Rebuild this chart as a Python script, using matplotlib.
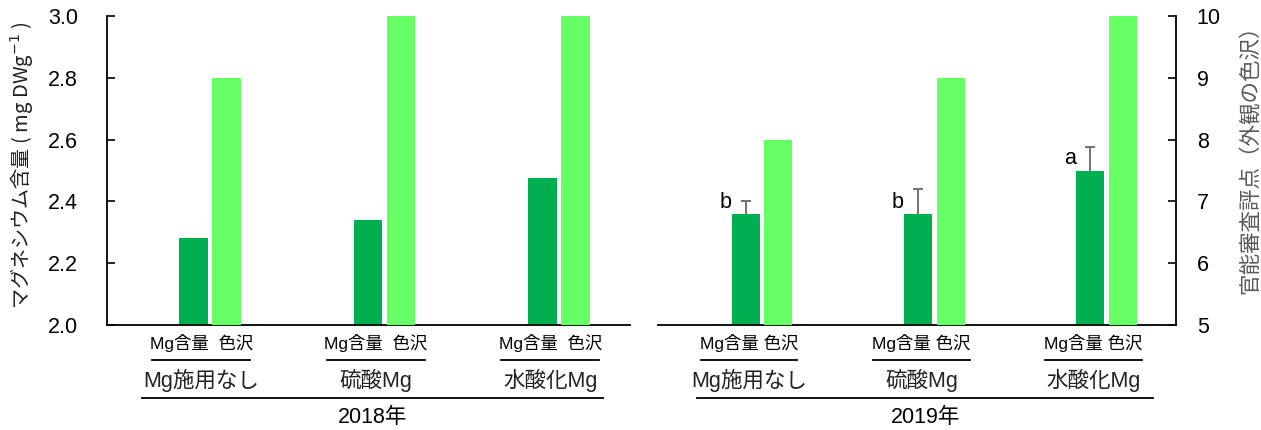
import matplotlib
matplotlib.use("Agg")
import matplotlib.pyplot as plt
import matplotlib.transforms as mtransforms
from matplotlib.lines import Line2D
import numpy as np

# ---- data ----
years = ["2018年", "2019年"]
treatments = ["Mg施用なし", "硫酸Mg", "水酸化Mg"]
bar_labels = ["Mg含量  色沢", "Mg含量 色沢"]
mg_2018 = [2.28, 2.34, 2.475]
color_2018 = [9, 10, 10]
mg_2019 = [2.36, 2.36, 2.50]
mg_2019_err = [0.04, 0.08, 0.075]
color_2019 = [8, 9, 10]
letters_2019 = ["b", "b", "a"]
mg_ticks = [2.0, 2.2, 2.4, 2.6, 2.8, 3.0]
score_ticks = [5, 6, 7, 8, 9, 10]
left_ylabel = "マグネシウム含量 ( mg DWg$^{-1}$ )"
right_ylabel = "官能審査評点（外観の色沢）"

# ---- style ----
DARK = "#00B050"
LIGHT = "#66FF66"
CJK = ["Noto Sans CJK JP", "DejaVu Sans"]
LAT = ["Liberation Sans", "Noto Sans CJK JP", "DejaVu Sans"]
W, H = 1261, 430

fig = plt.figure(figsize=(W / 100, H / 100), dpi=100)


def px_axes(x0, x1, ytop, ybot):
    return [x0 / W, 1 - ybot / H, (x1 - x0) / W, (ybot - ytop) / H]


axL = fig.add_axes(px_axes(107, 630, 16, 325))
axR = fig.add_axes(px_axes(658, 1176, 16, 325))
x = np.arange(len(treatments))
bw = 0.162
off = 0.095

panels = [
    (axL, mg_2018, None, color_2018, None, (-0.59, 2.407), -0.05, (-0.39, 2.252)),
    (axR, mg_2019, mg_2019_err, color_2019, letters_2019, (-0.604, 2.403), -0.075, (-0.377, 2.27)),
]

for k, (ax, mg, err, col, letters, xl, loff, longline) in enumerate(panels):
    axb = ax.twinx()
    ax.set_ylim(2.0, 3.0)
    axb.set_ylim(5, 10)
    ax.bar(x - off, mg, width=bw, color=DARK, zorder=2)
    axb.bar(x + off, col, width=bw, color=LIGHT, zorder=2)
    if err is not None:
        eb = ax.errorbar(x - off, mg, yerr=[np.zeros(len(err)), err], fmt="none",
                         ecolor="#707070", elinewidth=1.4, capsize=3.5, capthick=1.4,
                         zorder=3)
        if len(eb[1]) >= 2:
            eb[1][0].set_visible(False)
    if letters is not None:
        for i, (lt, v) in enumerate(zip(letters, mg)):
            ax.annotate(lt, xy=(x[i] - off - 0.116, v), xytext=(0, 4.5),
                        textcoords="offset points", ha="center", va="baseline",
                        fontsize=15.5, family=LAT, color="black")
    ax.set_xlim(*xl)
    axb.set_xlim(*xl)
    for a in (ax, axb):
        for s in a.spines.values():
            s.set_visible(False)
        a.tick_params(axis="x", bottom=False, labelbottom=False, top=False)
    ax.spines["bottom"].set_visible(True)
    ax.spines["bottom"].set_linewidth(1.3)
    if k == 0:
        ax.spines["left"].set_visible(True)
        ax.spines["left"].set_linewidth(1.3)
        ax.set_yticks(mg_ticks)
        ax.set_yticklabels([f"{t:.1f}" for t in mg_ticks], family=LAT)
        ax.tick_params(axis="y", direction="in", length=5.5, width=1.2, pad=21,
                       labelsize=15.5)
        axb.tick_params(axis="y", right=False, labelright=False)
    else:
        ax.tick_params(axis="y", left=False, labelleft=False)
        axb.spines["right"].set_visible(True)
        axb.spines["right"].set_linewidth(1.3)
        axb.set_yticks(score_ticks)
        axb.set_yticklabels([str(t) for t in score_ticks], family=LAT)
        axb.tick_params(axis="y", direction="in", length=5.5, width=1.2, pad=15,
                        labelsize=15.5)

    trans = mtransforms.blended_transform_factory(ax.transData, ax.transAxes)
    for i, name in enumerate(treatments):
        cx = x[i] + loff
        ax.text(cx, -0.058, bar_labels[k], transform=trans, ha="center", va="center",
                fontsize=12.5, family=LAT)
        fig.add_artist(Line2D([cx - 0.28, cx + 0.28], [-0.113, -0.113], transform=trans,
                              color="black", lw=1.3, clip_on=False))
        ax.text(cx, -0.181, name, transform=trans, ha="center", va="center",
                fontsize=15.5, family=LAT, color="#222222")
    fig.add_artist(Line2D(list(longline), [-0.236, -0.236], transform=trans,
                          color="black", lw=1.3, clip_on=False))
    ax.text(sum(longline) / 2, -0.298, years[k], transform=trans, ha="center", va="center",
            fontsize=15.5, family=LAT)

fig.text(22 / W, 1 - 165 / H, left_ylabel, rotation=90, ha="center", va="center",
         fontsize=14.5, family=CJK, color="#222222")
fig.text(1250 / W, 1 - 154 / H, right_ylabel, rotation=90, ha="center", va="center",
         fontsize=15.5, family=CJK, color="#595959")

fig.savefig("out.png", dpi=100)
